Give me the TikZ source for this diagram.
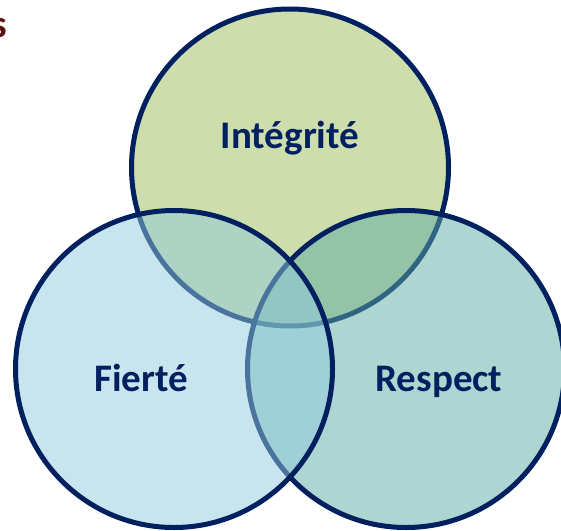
\documentclass[tikz,border=0pt]{standalone}
\usepackage{fontspec}
\setmainfont{Carlito}
\definecolor{navy}{RGB}{0,32,96}
\definecolor{topfill}{RGB}{205,221,172}
\definecolor{rightfill}{RGB}{95,171,165}
\definecolor{leftfill}{RGB}{145,201,221}
\definecolor{maroon}{RGB}{90,16,16}
\begin{document}
\begin{tikzpicture}[x=1pt,y=-1pt,
  ring/.style={circle, inner sep=0pt, outer sep=0pt, minimum size=317pt, draw=navy, line width=5pt},
  lbl/.style={font=\fontsize{39}{41}\selectfont\bfseries, text=navy, anchor=base, inner sep=0pt}]
\useasboundingbox (0,0) rectangle (561,530);
\begin{scope}
\clip (0,0) rectangle (561,530);
\node[ring, fill=topfill] (top) at (290,167.5) {};
\node[ring, fill=rightfill, fill opacity=0.5] (right) at (406,369) {};
\node[ring, fill=leftfill, fill opacity=0.5] (left) at (174,369) {};
\end{scope}
\node[lbl] (tI) at (290,148) {Intégrité};
\node[lbl] (tF) at (141,391) {Fierté};
\node[lbl] (tR) at (439,391) {Respect};
\node[font=\fontsize{39}{41}\selectfont\bfseries, text=maroon, anchor=base east, inner sep=0pt] (ts) at (7.5,37) {s};
\end{tikzpicture}
\end{document}
